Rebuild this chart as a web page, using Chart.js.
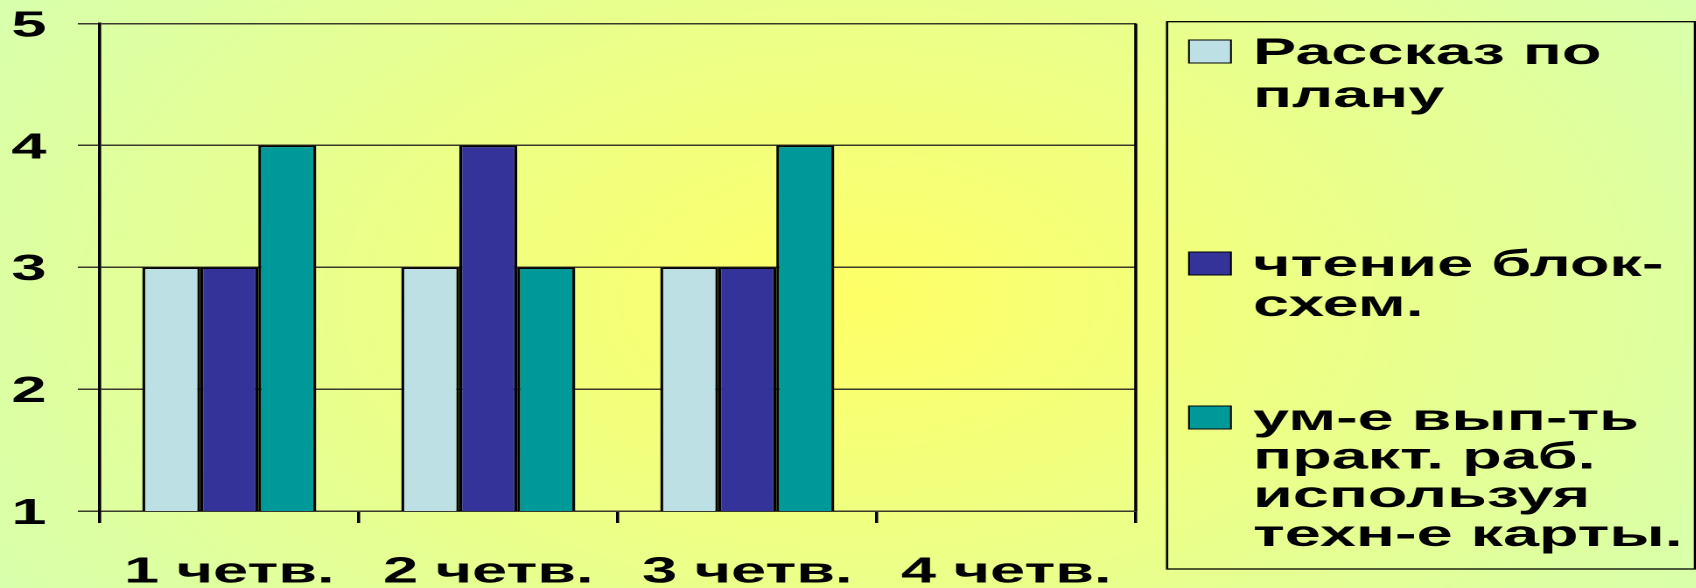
<!DOCTYPE html>
<html>
<head>
<meta charset="utf-8">
<script src="https://cdn.jsdelivr.net/npm/chart.js@4.4.0/dist/chart.umd.min.js"></script>
<style>
  html, body { margin: 0; padding: 0; overflow: hidden; background: #e4ff9c; }
  /* the original slide chart is stretched sideways, so draw narrow and stretch */
  #wrap { width: 969px; height: 588px; transform: scaleX(1.75); transform-origin: 0 0; }
</style>
</head>
<body>
<div id="wrap"><canvas id="chart" width="969" height="588"></canvas></div>
<script>
var categories = ['1 четв.', '2 четв.', '3 четв.', '4 четв.'];
var seriesNames = [
  ['Рассказ по', 'плану'],
  ['чтение блок-', 'схем.'],
  ['ум-е вып-ть', 'практ. раб.', 'используя', 'техн-е карты.']
];
var rasskaz = [3, 3, 3, null];
var chtenie = [3, 4, 3, null];
var umenie = [4, 3, 4, null];
var yTicks = [1, 2, 3, 4, 5];

var FONT = '"Liberation Sans", Arial, sans-serif';

// yellow-green radial fill behind everything
var bgGradient = {
  id: 'bgGradient',
  beforeDraw: function(chart) {
    var ctx = chart.ctx;
    var g = ctx.createRadialGradient(490, 300, 0, 490, 300, 600);
    g.addColorStop(0, '#ffff66');
    g.addColorStop(1, '#d6ffb0');
    ctx.save();
    ctx.fillStyle = g;
    ctx.fillRect(0, 0, chart.width, chart.height);
    ctx.restore();
  }
};

// right edge of the plot area
var plotEdge = {
  id: 'plotEdge',
  afterDraw: function(chart) {
    var a = chart.chartArea, ctx = chart.ctx;
    ctx.save();
    ctx.strokeStyle = '#000';
    ctx.lineWidth = 1.8;
    ctx.beginPath();
    ctx.moveTo(a.right, a.top);
    ctx.lineTo(a.right, a.bottom);
    ctx.stroke();
    ctx.restore();
  }
};

// boxed legend with wrapped labels, like the Excel one
var sideLegend = {
  id: 'sideLegend',
  afterDraw: function(chart, args, o) {
    var ctx = chart.ctx;
    ctx.save();
    ctx.strokeStyle = '#000';
    ctx.lineWidth = 1.3;
    ctx.strokeRect(o.left, o.top, o.right - o.left, o.bottom - o.top);
    ctx.font = 'bold 37px ' + FONT;
    ctx.textBaseline = 'alphabetic';
    chart.data.datasets.forEach(function(ds, i) {
      var base = o.baselines[i];
      ctx.fillStyle = ds.backgroundColor;
      ctx.fillRect(o.boxX, base - 24, o.boxW, 23);
      ctx.lineWidth = 1;
      ctx.strokeRect(o.boxX, base - 24, o.boxW, 23);
      ctx.fillStyle = '#000';
      ds.label.forEach(function(line, j) {
        ctx.fillText(line, o.textX, base + j * o.lineGaps[i]);
      });
    });
    ctx.restore();
  }
};

var ctx = document.getElementById('chart').getContext('2d');
var myChart = new Chart(ctx, {
  type: 'bar',
  data: {
    labels: categories,
    datasets: [{
      label: seriesNames[0],
      data: rasskaz,
      backgroundColor: '#bce0e4',
      borderColor: '#000',
      borderWidth: 1.7
    }, {
      label: seriesNames[1],
      data: chtenie,
      backgroundColor: '#333399',
      borderColor: '#000',
      borderWidth: 1.7
    }, {
      label: seriesNames[2],
      data: umenie,
      backgroundColor: '#009999',
      borderColor: '#000',
      borderWidth: 1.7
    }]
  },
  options: {
    responsive: false,
    animation: false,
    devicePixelRatio: 2,
    categoryPercentage: 0.672,
    barPercentage: 1.0,
    layout: { padding: { top: 23.5, right: 320, bottom: 0, left: 0 } },
    scales: {
      x: {
        afterFit: function(s) { s.height = 77; s.paddingLeft = 0; s.paddingRight = 0; },
        grid: { drawOnChartArea: false, offset: true, color: '#000', lineWidth: 1.8, tickLength: 12 },
        border: { display: false },
        ticks: {
          color: '#000', padding: 28, maxRotation: 0, autoSkip: false,
          font: { family: FONT, size: 36, weight: 'bold' }
        }
      },
      y: {
        min: 1,
        max: 5,
        afterFit: function(s) { s.width = 57; s.paddingTop = 0; s.paddingBottom = 0; },
        afterBuildTicks: function(s) { s.ticks = yTicks.map(function(v) { return { value: v }; }); },
        grid: { color: '#3a3a2a', lineWidth: 1.5, tickLength: 12.5 },
        border: { display: true, color: '#000', width: 1.8 },
        ticks: {
          color: '#000', padding: 18, labelOffset: 3,
          font: { family: FONT, size: 36, weight: 'bold' }
        }
      }
    },
    plugins: {
      legend: { display: false },
      tooltip: { enabled: false },
      sideLegend: {
        left: 666.9, top: 21.7, right: 968.5, bottom: 569,
        boxX: 679.4, boxW: 24, textX: 716,
        baselines: [64, 276, 430], lineGaps: [43, 40, 38.6]
      }
    }
  },
  plugins: [bgGradient, plotEdge, sideLegend]
});
</script>
</body>
</html>
